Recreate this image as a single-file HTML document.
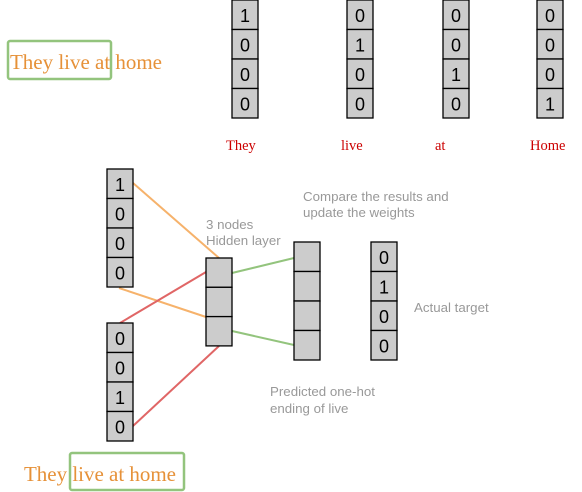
<!DOCTYPE html>
<html><head><meta charset="utf-8"><style>
body{margin:0;background:#fff}
svg{display:block}
.cell{fill:#cccccc;stroke:#000;stroke-width:1.3}
.num{font-family:"Liberation Sans",sans-serif;font-size:18px;fill:#000;text-anchor:middle}
.lbl{font-family:"Liberation Serif",serif;font-size:14.5px;fill:#cc0000}
.note{font-family:"Liberation Sans",sans-serif;font-size:13.3px;fill:#999}
.sent{font-family:"Liberation Serif",serif;font-size:21px;fill:#e69138}
</style></head><body>
<svg id="d" width="582" height="492">
<rect x="8" y="41" width="103" height="38" rx="2" fill="none" stroke="#93c47d" stroke-width="2.5"/>
<text class="sent" x="10" y="69" textLength="152" lengthAdjust="spacing">They live at home</text>
<rect x="70" y="453" width="114" height="37" rx="2" fill="none" stroke="#93c47d" stroke-width="2.5"/>
<text class="sent" x="24" y="481" textLength="152" lengthAdjust="spacing">They live at home</text>

<line x1="133" y1="183" x2="219" y2="258" stroke="#f6b26b" stroke-width="2"/>
<line x1="119" y1="288" x2="206" y2="317" stroke="#f6b26b" stroke-width="2"/>
<line x1="120" y1="323" x2="206" y2="272" stroke="#e06666" stroke-width="2"/>
<line x1="133" y1="426" x2="219" y2="346" stroke="#e06666" stroke-width="2"/>
<line x1="232" y1="273" x2="294" y2="258" stroke="#93c47d" stroke-width="2"/>
<line x1="232" y1="331" x2="294" y2="345" stroke="#93c47d" stroke-width="2"/>

<text class="lbl" x="226" y="150">They</text>
<text class="lbl" x="341" y="150">live</text>
<text class="lbl" x="435" y="150">at</text>
<text class="lbl" x="530" y="150">Home</text>

<text class="note" x="206" y="229">3 nodes</text>
<text class="note" x="206" y="245">Hidden layer</text>
<text class="note" x="303" y="201">Compare the results and</text>
<text class="note" x="303" y="217">update the weights</text>
<text class="note" x="414" y="312">Actual target</text>
<text class="note" x="270" y="396">Predicted one-hot</text>
<text class="note" x="270" y="413">ending of live</text>
<g id="vecs"></g>
</svg>
<script>
const vecNames=["vec-they","vec-live","vec-at","vec-home","input-they","input-at","hidden-layer","output-layer","target-vector"];
const vecValues=[["1","0","0","0"],["0","1","0","0"],["0","0","1","0"],["0","0","0","1"],["1","0","0","0"],["0","0","1","0"],["","",""],["","","",""],["0","1","0","0"]];
const vecX=[232,347,443,537,107,107,206,294,371];
const vecY=[0,0,0,0,169,323,258,242,242];
const g=document.getElementById('vecs');
const NS='http://www.w3.org/2000/svg';
vecNames.forEach((n,i)=>{
  const grp=document.createElementNS(NS,'g');
  
  
  vecValues[i].forEach((v,j)=>{
    const h=vecValues[i].length===3?29.3:29.5;
    const r=document.createElementNS(NS,'rect');
    r.setAttribute('class','cell');
    r.setAttribute('x',vecX[i]);r.setAttribute('y',vecY[i]+j*h);
    r.setAttribute('width',26);r.setAttribute('height',h);
    
    
    grp.appendChild(r);
    if(v!==''){
      const t=document.createElementNS(NS,'text');
      t.setAttribute('class','num');
      t.setAttribute('x',vecX[i]+13);t.setAttribute('y',vecY[i]+j*h+22);
      t.textContent=v;
      
      
      grp.appendChild(t);
    }
  });
  g.appendChild(grp);
});
</script>
</body></html>
